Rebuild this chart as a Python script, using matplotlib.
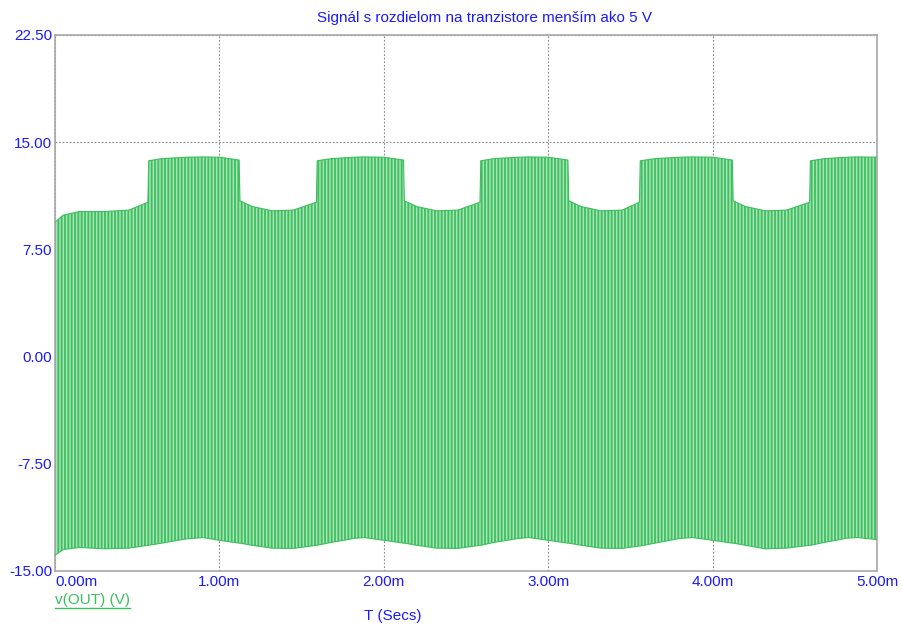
import matplotlib
matplotlib.use("Agg")
import matplotlib.pyplot as plt
from matplotlib.lines import Line2D

# Envelope of v(OUT): time in ms, upper and lower peaks in V
t_ms = [0.00, 0.05, 0.15, 0.30, 0.45, 0.565, 0.570, 0.65, 0.80, 0.90, 1.00, 1.120,
        1.125, 1.20, 1.32, 1.45, 1.590, 1.595, 1.68, 1.82, 1.88, 2.00, 2.120,
        2.125, 2.20, 2.32, 2.45, 2.585, 2.590, 2.67, 2.82, 2.88, 3.00, 3.120,
        3.125, 3.20, 3.32, 3.45, 3.555, 3.560, 3.65, 3.80, 3.88, 4.00, 4.120,
        4.125, 4.20, 4.32, 4.45, 4.590, 4.595, 4.68, 4.82, 4.88, 5.00]

v_upper = [9.40, 9.90, 10.15, 10.15, 10.25, 10.80, 13.70, 13.85, 13.95, 13.97, 13.95, 13.75,
           10.90, 10.50, 10.20, 10.25, 10.80, 13.70, 13.85, 13.95, 13.97, 13.95, 13.75,
           10.90, 10.50, 10.20, 10.25, 10.80, 13.70, 13.85, 13.95, 13.97, 13.95, 13.75,
           10.90, 10.50, 10.20, 10.25, 10.80, 13.70, 13.85, 13.95, 13.97, 13.95, 13.75,
           10.90, 10.50, 10.20, 10.25, 10.80, 13.70, 13.85, 13.95, 13.97, 13.95]

v_lower = [-13.90, -13.50, -13.35, -13.45, -13.40, -13.20, -13.20, -13.05, -12.75, -12.66, -12.85, -13.05,
           -13.05, -13.20, -13.40, -13.42, -13.20, -13.20, -13.00, -12.72, -12.66, -12.85, -13.05,
           -13.05, -13.20, -13.40, -13.42, -13.20, -13.20, -13.00, -12.72, -12.66, -12.85, -13.05,
           -13.05, -13.20, -13.40, -13.42, -13.25, -13.25, -13.05, -12.72, -12.66, -12.85, -13.05,
           -13.05, -13.20, -13.45, -13.40, -13.20, -13.20, -13.00, -12.70, -12.66, -12.80]

x_ticks = [0, 1, 2, 3, 4, 5]
x_ticklabels = ["0.00m", "1.00m", "2.00m", "3.00m", "4.00m", "5.00m"]
y_ticks = [-15.0, -7.5, 0.0, 7.5, 15.0, 22.5]
y_ticklabels = ["-15.00", "-7.50", "0.00", "7.50", "15.00", "22.50"]

title = "Signál s rozdielom na tranzistore menším ako 5 V"
x_title = "T (Secs)"
trace_name = "v(OUT) (V)"

BLUE = "#1a1aff"
GREEN = "#3dbf5e"
FILL = "#a8e4b7"
GRID = "#8c8c8c"
FS = 11

plt.rcParams["font.family"] = ["Liberation Sans", "DejaVu Sans"]
plt.rcParams["hatch.linewidth"] = 1.3
plt.rcParams["hatch.color"] = GREEN

W, H = 902, 625
fig = plt.figure(figsize=(W / 100, H / 100), dpi=100)
ax = fig.add_axes([55 / W, (H - 571) / H, 822 / W, 536 / H])

# dense carrier drawn as vertical strokes between the envelopes
ax.fill_between(t_ms, v_lower, v_upper, facecolor=FILL, edgecolor=GREEN,
                hatch="|||||", linewidth=0, zorder=2)
ax.plot(t_ms, v_upper, color=GREEN, lw=0.8, zorder=3)
ax.plot(t_ms, v_lower, color=GREEN, lw=0.8, zorder=3)

ax.set_xlim(0, 5)
ax.set_ylim(-15, 22.5)
ax.set_xticks(x_ticks)
ax.set_xticklabels(x_ticklabels)
ax.set_yticks(y_ticks)
ax.set_yticklabels(y_ticklabels)
ax.tick_params(length=0, labelsize=FS, labelcolor=BLUE)
ax.tick_params(axis="y", pad=2)
ax.tick_params(axis="x", pad=3)
ax.get_xticklabels()[0].set_horizontalalignment("left")

ax.grid(True, color=GRID, linestyle=(0, (1.6, 1.6)), linewidth=0.8, zorder=1)
ax.set_axisbelow(True)
for s in ax.spines.values():
    s.set_color("#a8a8a8")
    s.set_linewidth(1.2)

fig.text(484 / W, 1 - 18 / H, title, color=BLUE, fontsize=FS,
         ha="center", va="center")
fig.text(393 / W, 1 - 616 / H, x_title, color=BLUE, fontsize=FS,
         ha="center", va="center")
name = fig.text(55 / W, 1 - 600 / H, trace_name, color=GREEN, fontsize=FS,
                ha="left", va="center")

# underline for the trace name
fig.canvas.draw()
bb = name.get_window_extent(fig.canvas.get_renderer())
uy = (bb.y0 - 1) / H
fig.add_artist(Line2D([bb.x0 / W, bb.x1 / W], [uy, uy], color=GREEN, lw=1.0))

fig.savefig("out.png", dpi=100)
